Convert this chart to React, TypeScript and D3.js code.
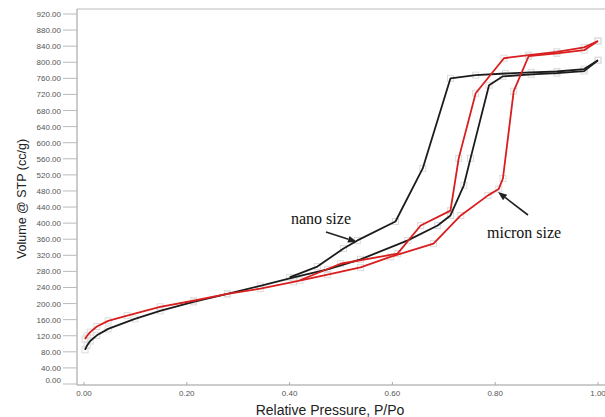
import * as React from 'react'
import * as d3 from 'd3'

const width = 605
const height = 417
const red = '#d81e1e'
const black = '#1c1c1c'

// relative pressure P/Po and volume (cc/g)
const nanoAdsP = [0.002, 0.006, 0.012, 0.025, 0.047, 0.099, 0.148, 0.213, 0.279, 0.343, 0.408, 0.474, 0.538, 0.63, 0.688, 0.713, 0.739, 0.752, 0.788, 0.815, 0.87, 0.92, 0.973, 1.0]
const nanoAdsV = [85, 96, 107, 121, 137, 162, 182, 204, 224, 244, 265, 285, 310, 357, 394, 419, 494, 561, 743, 765, 770, 773, 778, 805]
const nanoDesP = [0.4, 0.454, 0.505, 0.532, 0.606, 0.659, 0.713, 0.762, 0.82, 0.87, 0.92, 0.973, 1.0]
const nanoDesV = [265, 292, 337, 357, 404, 536, 760, 768, 772, 775, 777, 783, 805]

const micronAdsP = [0.002, 0.006, 0.012, 0.025, 0.047, 0.084, 0.148, 0.213, 0.279, 0.343, 0.408, 0.474, 0.538, 0.596, 0.68, 0.733, 0.786, 0.807, 0.815, 0.836, 0.865, 0.92, 0.973, 1.0]
const micronAdsV = [112, 120, 129, 143, 157, 170, 192, 207, 224, 237, 254, 272, 290, 316, 349, 419, 469, 485, 511, 728, 815, 822, 830, 853]
const micronDesP = [0.42, 0.499, 0.61, 0.655, 0.713, 0.729, 0.762, 0.817, 0.865, 0.92, 0.973, 1.0]
const micronDesV = [258, 299, 324, 394, 431, 561, 723, 810, 818, 826, 837, 853]

const yTicks = d3.range(0, 921, 40)
const xTicks = [0, 0.2, 0.4, 0.6, 0.8, 1.0]

const zip = (a: number[], b: number[]) => a.map((p, i) => [p, b[i]] as [number, number])

const series = [
  { pts: zip(nanoAdsP, nanoAdsV), color: black },
  { pts: zip(nanoDesP, nanoDesV), color: black },
  { pts: zip(micronAdsP, micronAdsV), color: red },
  { pts: zip(micronDesP, micronDesV), color: red },
]

const x = d3.scaleLinear().domain([0, 1]).range([84, 598])
const y = d3.scaleLinear().domain([0, 920]).range([384, 14])

const line = d3
  .line<[number, number]>()
  .x(d => x(d[0]))
  .y(d => y(d[1]))

const Arrow = ({ x1, y1, x2, y2 }: any) => {
  const a = Math.atan2(y2 - y1, x2 - x1)
  const L = 9
  const W = 3.5
  const bx = x2 - L * Math.cos(a)
  const by = y2 - L * Math.sin(a)
  const pts = [
    [x2, y2],
    [bx + W * Math.sin(a), by - W * Math.cos(a)],
    [bx - W * Math.sin(a), by + W * Math.cos(a)],
  ]
  return (
    <g>
      <line x1={x1} y1={y1} x2={bx} y2={by} stroke="#222" strokeWidth={1.6} />
      <polygon points={pts.map(p => p.join(',')).join(' ')} fill="#222" />
    </g>
  )
}

const App = () => {
  const left = 77
  const base = 385
  return (
    <svg width={width} height={height} style={{ position: 'absolute', left: 0, top: 0, background: '#fff' }}>
      {/* frame */}
      <line x1={left} y1={9} x2={width} y2={9} stroke="#bbb" />
      <line x1={left} y1={9} x2={left} y2={base} stroke="#999" />
      <line x1={left} y1={base} x2={width} y2={base} stroke="#999" />

      {/* y axis */}
      {yTicks.map(t => (
        <g key={t}>
          <line x1={63} x2={left} y1={y(t)} y2={y(t)} stroke="#bbb" />
          <text
            x={61}
            y={t === 0 ? y(t) - 1 : y(t) + 3}
            textAnchor="end"
            fontFamily="Liberation Sans, Arial, sans-serif"
            fontSize={8}
            fill="#555"
          >
            {t.toFixed(2)}
          </text>
        </g>
      ))}

      {/* x axis */}
      {xTicks.map(t => (
        <g key={t}>
          <line x1={x(t)} x2={x(t)} y1={base} y2={base - 3} stroke="#aaa" />
          <text
            x={x(t)}
            y={396}
            textAnchor="middle"
            fontFamily="Liberation Sans, Arial, sans-serif"
            fontSize={8}
            fill="#555"
          >
            {t.toFixed(2)}
          </text>
        </g>
      ))}

      <text
        transform="translate(26,199) rotate(-90)"
        textAnchor="middle"
        fontFamily="Liberation Sans, Arial, sans-serif"
        fontSize={12.5}
        fill="#222"
      >
        Volume @ STP (cc/g)
      </text>
      <text x={330} y={415} textAnchor="middle" fontFamily="Liberation Sans, Arial, sans-serif" fontSize={14} fill="#222">
        Relative Pressure, P/Po
      </text>

      {/* markers */}
      {series.map((s, i) => (
        <g key={'m' + i}>
          {s.pts.map((d, j) => (
            <rect key={j} x={x(d[0]) - 3} y={y(d[1]) - 3} width={6} height={6} fill="none" stroke="#dcdcdc" strokeWidth={1} />
          ))}
        </g>
      ))}

      {/* isotherms */}
      {series.map((s, i) => (
        <path key={i} d={line(s.pts) || ''} fill="none" stroke={s.color} strokeWidth={1.8} strokeLinejoin="round" />
      ))}

      {/* annotations */}
      <text x={291} y={224} fontFamily="Liberation Serif, Times New Roman, serif" fontSize={16} fill="#111">
        nano size
      </text>
      <Arrow x1={326} y1={232} x2={357} y2={242} />
      <text x={487} y={238} fontFamily="Liberation Serif, Times New Roman, serif" fontSize={16} fill="#111">
        micron size
      </text>
      <Arrow x1={528} y1={215} x2={498} y2={192} />
    </svg>
  )
}

export default App
